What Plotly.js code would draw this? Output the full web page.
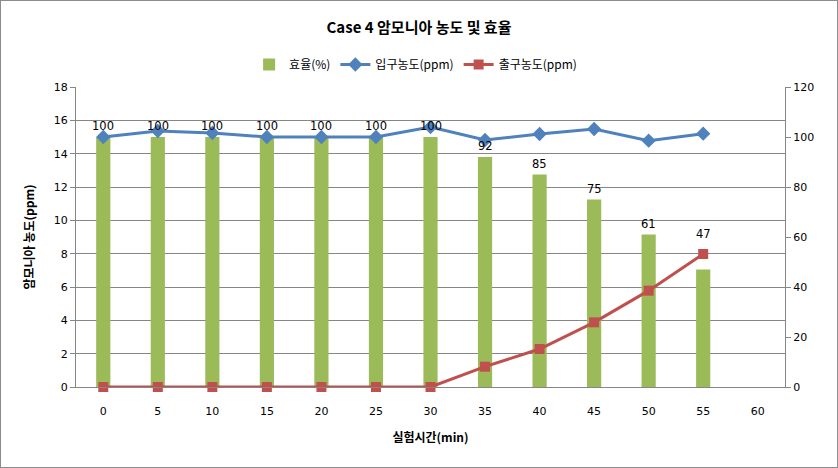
<!DOCTYPE html>
<html>
<head>
<meta charset="utf-8">
<script src="https://cdn.plot.ly/plotly-3.0.1.min.js"></script>
<style>
html,body{margin:0;padding:0;background:#fff;}
#chart{width:838px;height:468px;box-sizing:border-box;border:1px solid #8c8c8c;}
</style>
</head>
<body>
<div id="chart"></div>
<script>
const categories = ['0','5','10','15','20','25','30','35','40','45','50','55','60'];
const barCategories = ['0','5','10','15','20','25','30','35','40','45','50','55'];
const efficiency = [100,100,100,100,100,100,100,92,85,75,61,47];
const inletConc = [15.0,15.36,15.24,15.0,15.0,15.0,15.6,14.82,15.18,15.48,14.78,15.2];
const outletConc = [0,0,0,0,0,0,0,1.22,2.28,3.88,5.78,7.98];

const KR = '"Noto Sans CJK KR", "Noto Sans", sans-serif';
const NUM = '"DejaVu Sans", sans-serif';

const traces = [
  {
    type: 'bar', name: '효율(%)', x: barCategories, y: efficiency,
    xaxis: 'x', yaxis: 'y',
    marker: {color: '#9BBB59'}
  },
  {
    type: 'scatter', mode: 'lines+markers', name: '입구농도(ppm)',
    x: barCategories, y: inletConc, xaxis: 'x', yaxis: 'y2',
    line: {color: '#4F81BD', width: 3},
    marker: {symbol: 'diamond', size: 11, color: '#4F81BD'}
  },
  {
    type: 'scatter', mode: 'lines+markers', name: '출구농도(ppm)',
    x: barCategories, y: outletConc, xaxis: 'x', yaxis: 'y2',
    line: {color: '#C0504D', width: 3},
    marker: {symbol: 'square', size: 10, color: '#C0504D'},
    cliponaxis: false
  }
];

// data labels for the efficiency bars (the last one is lifted clear of the red line, as in the original)
// x is given as the category index of each bar on the category axis
const labelAnnotations = efficiency.map((v, i) => ({
  xref: 'x', yref: 'y', x: categories.indexOf(barCategories[i]), y: v,
  text: String(v), showarrow: false,
  yanchor: 'bottom', yshift: (i === efficiency.length - 1) ? 27 : 2,
  font: {family: NUM, size: 11.5, color: '#000'}
}));

const layout = {
  width: 836, height: 466,
  margin: {l: 75, r: 52, t: 86, b: 80},
  paper_bgcolor: '#fff', plot_bgcolor: '#fff',
  showlegend: true,
  title: {
    text: '<b>Case 4 암모니아 농도 및 효율</b>',
    font: {family: KR, size: 15, color: '#000'},
    x: 0.5, xanchor: 'center', y: 0.942, yanchor: 'middle'
  },
  legend: {
    orientation: 'h', x: 0.479, xanchor: 'center', y: 1.075, yanchor: 'middle',
    font: {family: KR, size: 12, color: '#000'},
    traceorder: 'normal', itemwidth: 30
  },
  bargap: 0.74,
  annotations: labelAnnotations,
  xaxis: {
    type: 'category', categoryorder: 'array', categoryarray: categories,
    range: [-0.5, 12.5], showgrid: false, showline: true, linecolor: '#868686', linewidth: 1,
    ticks: '', ticklabelstandoff: 14,
    tickfont: {family: NUM, size: 11, color: '#000'},
    title: {text: '<b>실험시간(min)</b>', font: {family: KR, size: 12, color: '#000'}, standoff: 16},
    zeroline: false, fixedrange: true
  },
  yaxis: {
    side: 'right', range: [0, 120], dtick: 20, tick0: 0,
    showgrid: false, zeroline: false,
    showline: true, linecolor: '#868686', linewidth: 1,
    ticks: 'outside', ticklen: 5, tickcolor: '#868686',
    tickfont: {family: NUM, size: 11, color: '#000'},
    fixedrange: true
  },
  yaxis2: {
    overlaying: 'y', side: 'left', range: [0, 18], dtick: 2, tick0: 0,
    showgrid: true, gridcolor: '#868686', gridwidth: 1, zeroline: false,
    showline: true, linecolor: '#868686', linewidth: 1,
    ticks: 'outside', ticklen: 5, tickcolor: '#868686',
    tickfont: {family: NUM, size: 11, color: '#000'},
    title: {text: '<b>암모니아 농도(ppm)</b>', font: {family: KR, size: 12, color: '#000'}, standoff: 16},
    fixedrange: true
  }
};

Plotly.newPlot('chart', traces, layout, {displayModeBar: false, staticPlot: true});
</script>
</body>
</html>
